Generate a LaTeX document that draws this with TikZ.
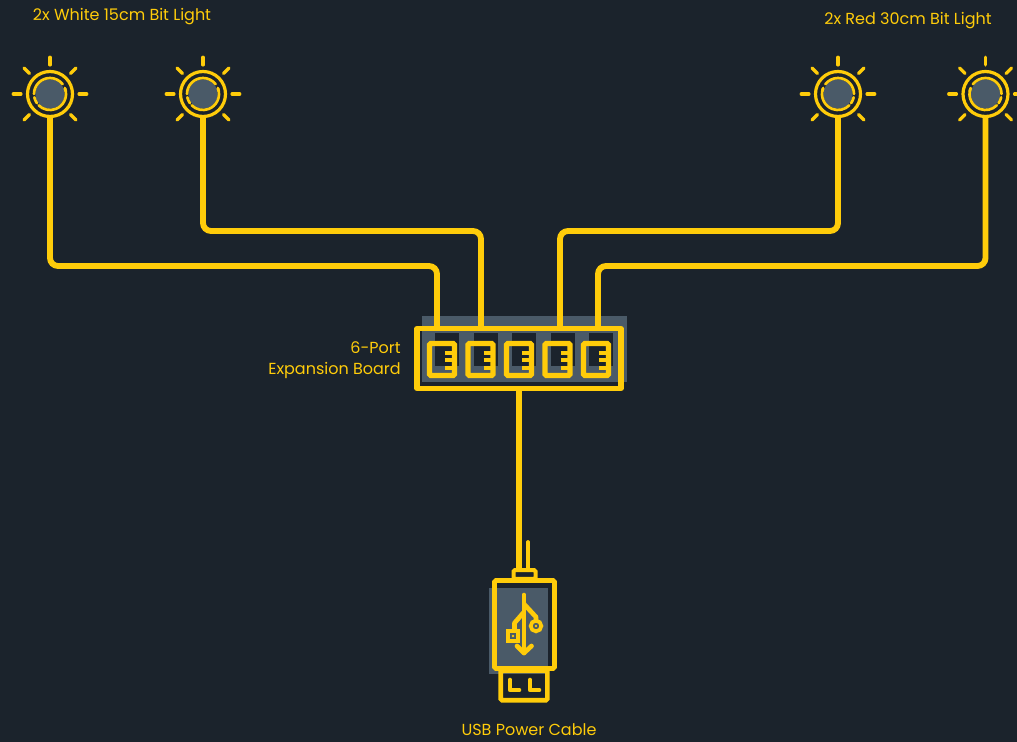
\documentclass[tikz,border=0pt]{standalone}
\usepackage{fontspec}
\setmainfont{Poppins}
\usetikzlibrary{calc}
\definecolor{bg}{HTML}{1B232C}
\definecolor{yel}{HTML}{FFCC0A}
\definecolor{slate}{HTML}{4A5A68}
\tikzset{
  x=0.75pt,y=-0.75pt,
  lamp/.style={circle,draw=yel,line width=2.4pt,minimum size=33.75pt,inner sep=0pt,outer sep=0pt},
  ray/.style={draw=yel,line width=2.4pt,line cap=round},
  ringarc/.style={draw=yel,line width=2pt,line cap=round},
  cable/.style={draw=yel,line width=4.4pt,rounded corners=6pt},
  boardbox/.style={rectangle,draw=yel,line width=4pt,minimum width=153pt,minimum height=45pt,inner sep=0pt,outer sep=0pt,line join=round},
  portbox/.style={rectangle,draw=yel,line width=4pt,minimum width=18.8pt,minimum height=24pt,inner sep=0pt,outer sep=0pt,rounded corners=1pt},
  tooth/.style={draw=yel,line width=2.6pt},
  usbline/.style={draw=yel,line width=3.5pt,line join=round},
  usbbox/.style={rectangle,draw=yel,line width=3.5pt,inner sep=0pt,outer sep=0pt,rounded corners=1pt},
  label/.style={text=yel,font=\fontsize{12}{14}\selectfont,inner sep=0pt}
}
\newcommand{\lamp}[4]{%
  \fill[slate] (#2,94) circle (11pt);
  \node[lamp] (#1) at (#2,94) {};
  \begin{scope}[shift={(#2,94)},xscale=#3,rotate=#4]
    \foreach \a/\b in {20/-135,-145/-168,-180/-322,-338/-350}{
      \draw[ringarc] (\a:12pt) arc[start angle=\a,end angle=\b,radius=12pt];
    }
  \end{scope}
  \begin{scope}[shift={(#2,94)}]
    \foreach \r in {0,45,...,315}{
      \ifnum\r=270\relax\else
      \draw[ray] (\r:21.8pt) -- (\r:27.6pt);
      \fi
    }
  \end{scope}
}
\begin{document}
\begin{tikzpicture}
\useasboundingbox[fill=bg] (0,0) rectangle (1017,742);

% lights
\lamp{la}{50}{1}{0}
\lamp{lb}{203}{1}{0}
\lamp{lc}{838}{-1}{0}
\lamp{ld}{985.5}{-1}{0}

% board underlay
\fill[slate] (422,316) rectangle (627,382);
\foreach \i in {0,...,4}{
  \fill[bg] ({435+38.5*\i},333) rectangle ({459+38.5*\i},366);
}

% cable levels and port entries
\coordinate (hi) at (0,231);
\coordinate (lo) at (0,266);
\coordinate (ea) at (437,327);
\coordinate (eb) at (481,327);
\coordinate (ec) at (560,327);
\coordinate (ed) at (598,327);

\draw[cable] (la.south) -- (la.south |- lo) -- (ea |- lo) -- (ea);
\draw[cable] (lb.south) -- (lb.south |- hi) -- (eb |- hi) -- (eb);
\draw[cable] (lc.south) -- (lc.south |- hi) -- (ec |- hi) -- (ec);
\draw[cable] (ld.south) -- (ld.south |- lo) -- (ed |- lo) -- (ed);

% board
\node[boardbox] (board) at (519,358.5) {};
\foreach \i in {0,...,4}{
  \node[portbox] (p\i) at ({442+38.5*\i},359.5) {};
  \foreach \y in {353,360,368}{
    \draw[tooth] ({445+38.5*\i},\y) -- ({454+38.5*\i},\y);
  }
}

% usb underlay
\fill[slate] (489,588) rectangle (548,674);

% usb outline
\node[usbbox,minimum width=45pt,minimum height=66pt] (usb) at (524.5,624.5) {};
\node[usbbox,line width=3pt,minimum width=16.5pt,minimum height=6.5pt] (collar) at (524.5,574.5) {};
\node[usbbox,minimum width=35pt,minimum height=22pt] (plug) at (524,685.5) {};

% power cable and thin wire
\coordinate (wireend) at (528,542);
\draw[cable] (board.south -| 519,0) -- (519,569);
\draw[draw=yel,line width=2.8pt,line cap=round] (wireend) -- (wireend |- collar.north);

% plug contacts
\draw[usbline,line cap=round] (510,680) -- (510,690) -- (519,690);
\draw[usbline,line cap=round] (530,680) -- (530,690) -- (539,690);

% usb symbol
\draw[usbline,line cap=round] (524,595) -- (524,653);
\draw[usbline,line cap=round] (517,646) -- (524,653) -- (531.5,646);
\draw[usbline] (524,604) -- (536,617) -- (536,620);
\draw[usbline] (524,612) -- (514.5,623) -- (514.5,630);
\node[circle,draw=yel,line width=2.8pt,minimum size=8pt,inner sep=0pt] (uc) at (536,626) {};
\node[rectangle,draw=yel,line width=2.8pt,minimum size=7.5pt,inner sep=0pt] (us) at (513,636) {};
\fill[yel] (uc) circle (1.1pt);
\fill[yel] (us) circle (1.1pt);

% labels
\node[label,anchor=base] (t1) at (122,21) {2x White 15cm Bit Light};
\node[label,anchor=base] (t2) at (908,25) {2x Red 30cm Bit Light};
\node[label,anchor=base east] (t3) at (401,353) {6-Port};
\node[label,anchor=base east] (t4) at (401,374) {Expansion Board};
\node[label,anchor=base] (t5) at (529,735) {USB Power Cable};
\end{tikzpicture}
\end{document}
